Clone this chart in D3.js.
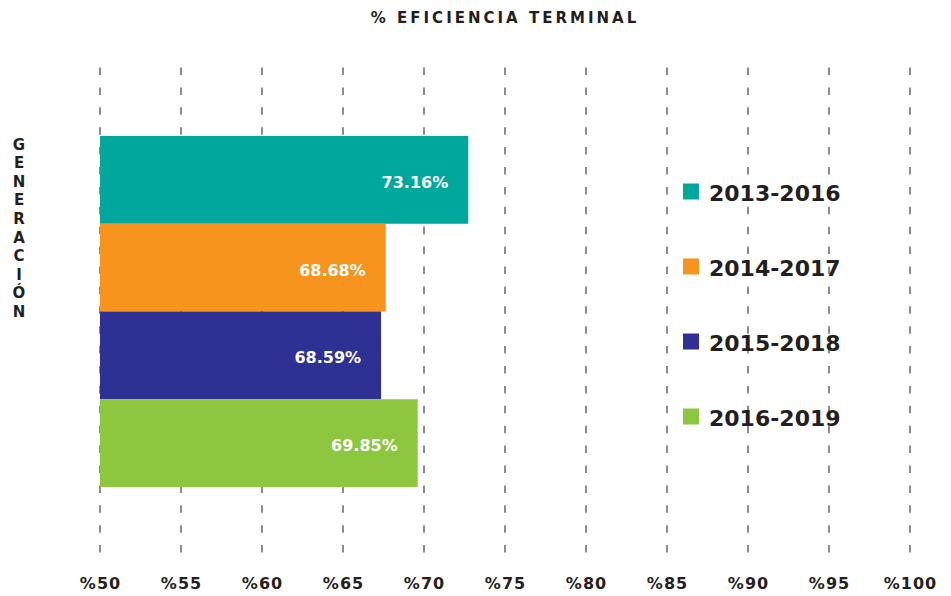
<!DOCTYPE html>
<html>
<head>
<meta charset="utf-8">
<script src="https://cdnjs.cloudflare.com/ajax/libs/d3/7.8.5/d3.min.js"></script>
<style>
  body { margin: 0; background: #fff; }
  svg { display: block; font-family: "DejaVu Sans", sans-serif; }
</style>
</head>
<body>
<div id="chart"></div>
<script>
//-------------------DATA---------------------------------------------------------
var generations = ["2013-2016", "2014-2017", "2015-2018", "2016-2019"];
var barValues = [72.73, 67.64, 67.35, 69.61];           // bar lengths as drawn
var labelTexts = ["73.16%", "68.68%", "68.59%", "69.85%"];
var barColors = ["#00a79d", "#f7941e", "#2e3192", "#8dc63f"];
var tickValues = [50, 55, 60, 65, 70, 75, 80, 85, 90, 95, 100];
var yTitleLetters = ["G", "E", "N", "E", "R", "A", "C", "I", "Ó", "N"];

var width = 951;
var height = 596;

var svg = d3.select("#chart")
    .append("svg")
    .attr("width", width)
    .attr("height", height);

// Scales
var xScale = d3.scaleLinear().domain([50, 100]).range([100, 910]);
var yScale = d3.scaleBand().domain(generations).range([136, 487]).padding(0);

//-------------------GRID LINES (dashed)------------------------------------------
svg.append("g")
    .selectAll("line")
    .data(tickValues)
    .enter()
    .append("line")
    .attr("x1", function(d) { return xScale(d); })
    .attr("x2", function(d) { return xScale(d); })
    .attr("y1", 67.5)
    .attr("y2", 553)
    .attr("stroke", "#8c8c8c")
    .attr("stroke-width", 2)
    .attr("stroke-dasharray", "7.5,12.4");

//-------------------BARS---------------------------------------------------------
var rows = generations.map(function(g, i) {
    return { gen: g, value: barValues[i], label: labelTexts[i], color: barColors[i] };
});

svg.append("g")
    .selectAll("rect")
    .data(rows)
    .enter()
    .append("rect")
    .attr("x", xScale(50))
    .attr("y", function(d) { return yScale(d.gen); })
    .attr("width", function(d) { return xScale(d.value) - xScale(50); })
    .attr("height", yScale.bandwidth())
    .attr("fill", function(d) { return d.color; });

// Value labels inside the bars
svg.append("g")
    .selectAll("text")
    .data(rows)
    .enter()
    .append("text")
    .attr("x", function(d) { return xScale(d.value) - 20; })
    .attr("y", function(d) { return yScale(d.gen) + yScale.bandwidth() / 2 + 8; })
    .attr("text-anchor", "end")
    .attr("fill", "#ffffff")
    .style("font-size", "16px")
    .style("font-weight", "bold")
    .text(function(d) { return d.label; });

//-------------------X AXIS LABELS------------------------------------------------
var xAxis = d3.axisBottom(xScale)
    .tickValues(tickValues)
    .tickSize(0)
    .tickPadding(0)
    .tickFormat(function(d) { return "%" + d; });

var axisG = svg.append("g")
    .attr("transform", "translate(0,578)")
    .call(xAxis);

axisG.select(".domain").remove();
axisG.selectAll("text")
    .attr("fill", "#231f20")
    .style("font-family", "DejaVu Sans, sans-serif")
    .style("font-size", "16px")
    .style("font-weight", "bold")
    .style("letter-spacing", "1px");

//-------------------TITLES-------------------------------------------------------
svg.append("text")
    .attr("x", 505)
    .attr("y", 22.5)
    .attr("text-anchor", "middle")
    .attr("fill", "#231f20")
    .style("font-size", "15px")
    .style("font-weight", "bold")
    .style("letter-spacing", "3px")
    .text("% EFICIENCIA TERMINAL");

// Vertical stacked title
svg.append("g")
    .selectAll("text")
    .data(yTitleLetters)
    .enter()
    .append("text")
    .attr("x", 19)
    .attr("y", function(d, i) { return 149.5 + i * 18.6; })
    .attr("text-anchor", "middle")
    .attr("fill", "#231f20")
    .style("font-size", "15px")
    .style("font-weight", "bold")
    .text(function(d) { return d; });

//-------------------LEGEND-------------------------------------------------------
var legend = svg.append("g")
    .selectAll("g")
    .data(rows)
    .enter()
    .append("g")
    .attr("transform", function(d, i) { return "translate(683," + (183.5 + i * 75) + ")"; });

legend.append("rect")
    .attr("width", 16)
    .attr("height", 16)
    .attr("fill", function(d) { return d.color; });

legend.append("text")
    .attr("x", 26)
    .attr("y", 17.2)
    .attr("fill", "#231f20")
    .style("font-size", "22px")
    .style("font-weight", "bold")
    .text(function(d) { return d.gen; });
</script>
</body>
</html>
